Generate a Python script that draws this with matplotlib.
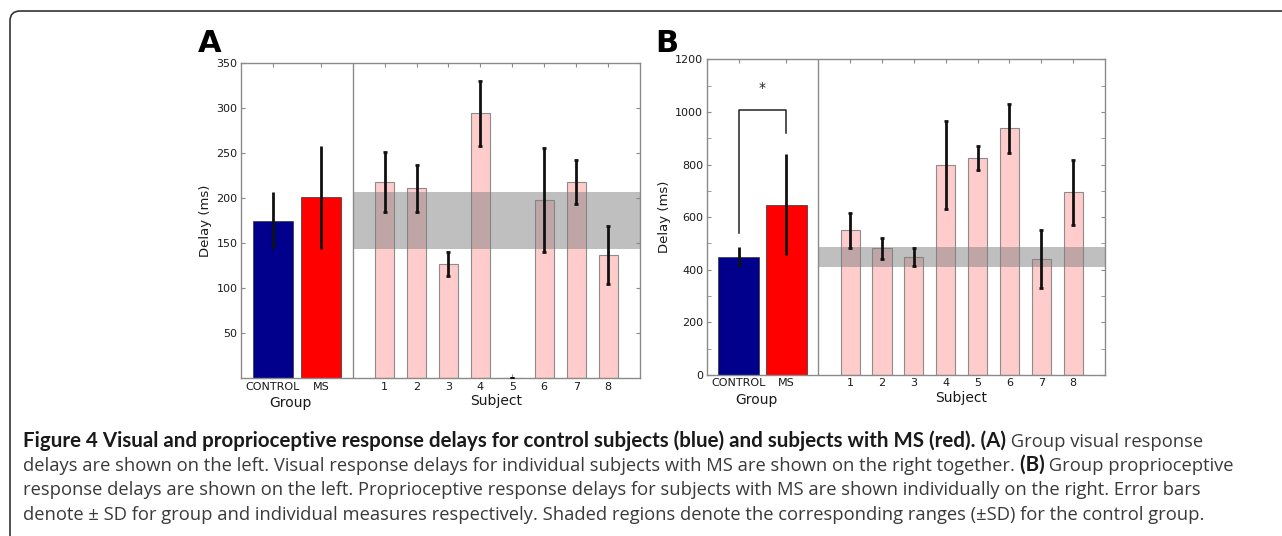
import numpy as np
import matplotlib
matplotlib.use('Agg')
import matplotlib.pyplot as plt
from matplotlib.patches import FancyBboxPatch
from matplotlib.ticker import MultipleLocator

# Group means / SD (CONTROL, MS) and per-subject values for MS subjects
groups = ['CONTROL', 'MS']
subjects = ['1', '2', '3', '4', '5', '6', '7', '8']

visual_group_mean = [175, 201]
visual_group_sd = [32, 57]
visual_subj_mean = [218, 211, 127, 294, 0, 198, 218, 137]
visual_subj_sd = [33, 26, 13, 36, 0, 58, 24, 32]

prop_group_mean = [450, 648]
prop_group_sd = [38, 193]
prop_subj_mean = [550, 482, 449, 798, 824, 938, 440, 694]
prop_subj_sd = [66, 40, 34, 168, 45, 93, 111, 122]

# significance bracket in panel B (bottom left, top, bottom right, star)
sig_bracket = [538, 1007, 921]
sig_star_y = 1090

caption_lines = [
    [("Figure 4 Visual and proprioceptive response delays for control subjects (blue) and subjects with MS (red). (A)", 'bold'),
     (" Group visual response", 'normal')],
    [("delays are shown on the left. Visual response delays for individual subjects with MS are shown on the right together.", 'normal'),
     (" (B)", 'bold'),
     (" Group proprioceptive", 'normal')],
    [("response delays are shown on the left. Proprioceptive response delays for subjects with MS are shown individually on the right. Error bars", 'normal')],
    [("denote \u00b1 SD for group and individual measures respectively. Shaded regions denote the corresponding ranges (\u00b1SD) for the control group.", 'normal')],
]

CTRL_COLOR = '#00008C'
MS_COLOR = '#FF0000'
SUBJ_COLOR = '#FFCCCC'
FRAME = '#8a8a8a'

W, H = 1282, 536
fig = plt.figure(figsize=(W / 100, H / 100), dpi=100)

group_x = np.array([2.0, 3.5])
subj_x = np.arange(1, 9) + 4.5
divider = 4.5


def px_axes(left, top, right, bottom):
    return fig.add_axes([left / W, 1 - bottom / H, (right - left) / W, (bottom - top) / H])


def draw_panel(ax, gmean, gsd, smean, ssd, ylim, major, minor=None, yticks=None):
    ax.bar(group_x[0], gmean[0], width=1.27, color=CTRL_COLOR, edgecolor='#333333', lw=0.5, zorder=2)
    ax.bar(group_x[1], gmean[1], width=1.27, color=MS_COLOR, edgecolor='#333333', lw=0.5, zorder=2)
    ax.errorbar(group_x, gmean, yerr=gsd, fmt='none', ecolor='#111111', elinewidth=2, capsize=0, zorder=4)

    ax.bar(subj_x, smean, width=0.6, color=SUBJ_COLOR, edgecolor='#8c8c8c', lw=0.8, zorder=2)
    ax.errorbar(subj_x, smean, yerr=ssd, fmt='none', ecolor='#111111', elinewidth=2,
                capsize=1.6, capthick=2, zorder=4)

    # control range (+-SD) shaded across subject region
    lo, hi = gmean[0] - gsd[0], gmean[0] + gsd[0]
    ax.fill_between([divider, 13.5], lo, hi, color='#808080', alpha=0.5, lw=0, zorder=3)

    ax.axvline(divider, color=FRAME, lw=1.0, zorder=5)

    ax.set_xlim(1, 13.5)
    ax.set_ylim(*ylim)
    ax.set_xticks(np.concatenate([group_x, subj_x]))
    ax.set_xticklabels(groups + subjects)
    if yticks is not None:
        ax.set_yticks(yticks)
    else:
        ax.yaxis.set_major_locator(MultipleLocator(major))
    if minor:
        ax.yaxis.set_minor_locator(MultipleLocator(minor))
    ax.tick_params(which='both', direction='in', top=True, right=True, color=FRAME,
                   labelsize=8, length=3, pad=2.5, labelcolor='#1a1a1a')
    ax.tick_params(which='minor', length=3)
    for sp in ax.spines.values():
        sp.set_color(FRAME)
        sp.set_linewidth(1.0)
    ax.set_ylabel('Delay (ms)', fontsize=9.5, labelpad=3, color='#1a1a1a')
    ax.text(2.55, -0.078, 'Group', transform=ax.get_xaxis_transform(), ha='center', va='center',
            fontsize=10, color='#1a1a1a')
    ax.text(9.0, -0.072, 'Subject', transform=ax.get_xaxis_transform(), ha='center', va='center',
            fontsize=10, color='#1a1a1a')


axA = px_axes(241, 63, 640, 378.3)
draw_panel(axA, visual_group_mean, visual_group_sd, visual_subj_mean, visual_subj_sd,
           (0, 350), 50, yticks=np.arange(50, 351, 50))

axB = px_axes(706.7, 59.3, 1105, 375)
draw_panel(axB, prop_group_mean, prop_group_sd, prop_subj_mean, prop_subj_sd,
           (0, 1200), 200, minor=100)

# significance bracket
axB.plot([group_x[0], group_x[0], group_x[1], group_x[1]],
         [sig_bracket[0], sig_bracket[1], sig_bracket[1], sig_bracket[2]],
         color='#222222', lw=1.1, zorder=6)
axB.text(group_x.mean(), sig_star_y, '*', ha='center', va='center', fontsize=10, color='#222222')

# panel letters
fig.text(198 / W, 1 - 52 / H, 'A', fontsize=22, fontweight='bold', va='baseline', ha='left')
fig.text(655 / W, 1 - 52 / H, 'B', fontsize=22, fontweight='bold', va='baseline', ha='left')

# outer rounded frame
frame = FancyBboxPatch((10 / 100, -0.3), 13.2, (H - 11) / 100 + 0.3,
                       boxstyle='round,pad=0,rounding_size=0.1',
                       transform=fig.dpi_scale_trans, fill=False,
                       edgecolor='#333333', lw=1.2, clip_on=False)
fig.add_artist(frame)

# caption
renderer = fig.canvas.get_renderer()
cap_base = [446.7, 470.7, 495.3, 520.0]
for row, parts in enumerate(caption_lines):
    x = 22.7 / W
    for txt, wt in parts:
        if wt == 'bold':
            t = fig.text(x, 1 - cap_base[row] / H, txt, fontsize=14.8, fontweight='bold',
                         family=['Lato', 'DejaVu Sans'], va='baseline', color='#1a1a1a')
        else:
            t = fig.text(x, 1 - cap_base[row] / H, txt, fontsize=13.2,
                         family=['Open Sans', 'DejaVu Sans'], va='baseline', color='#3a3a3a')
        bb = t.get_window_extent(renderer)
        x = bb.x1 / W

fig.savefig('out.png', dpi=100)
